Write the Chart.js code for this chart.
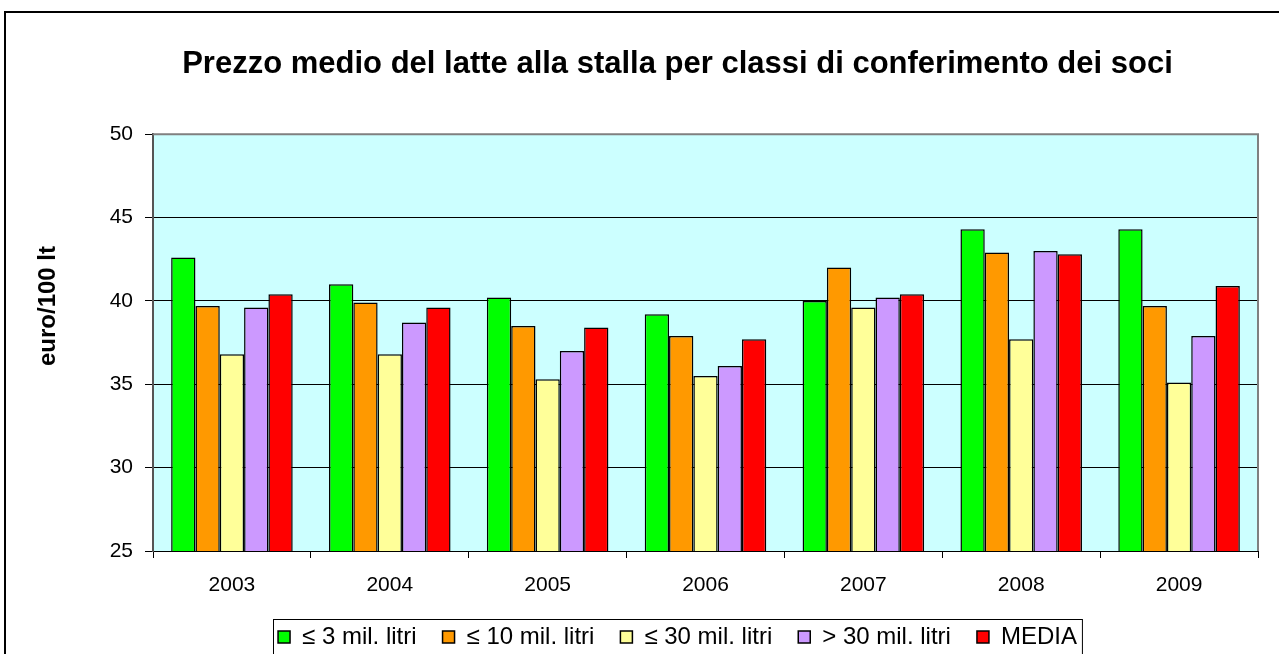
<!DOCTYPE html>
<html>
<head>
<meta charset="utf-8">
<script src="https://cdn.jsdelivr.net/npm/chart.js@4/dist/chart.umd.min.js"></script>
<style>
  body { margin: 0; overflow: hidden; background: #fff; }
  #frame { position: absolute; left: 4px; top: 11px; width: 1346px; height: 800px; border: 2px solid #000; }
  #c { position: absolute; left: 0; top: 0; }
</style>
</head>
<body>
<div id="frame"></div>
<canvas id="c" width="1355" height="680"></canvas>
<script>
// dati
const anni = ['2003', '2004', '2005', '2006', '2007', '2008', '2009'];
const classe3 = [42.6, 41.0, 40.2, 39.2, 40.0, 44.3, 44.3];
const classe10 = [39.7, 39.9, 38.5, 37.9, 42.0, 42.9, 39.7];
const classe30 = [36.8, 36.8, 35.3, 35.5, 39.6, 37.7, 35.1];
const oltre30 = [39.6, 38.7, 37.0, 36.1, 40.2, 43.0, 37.9];
const media = [40.4, 39.6, 38.4, 37.7, 40.4, 42.8, 40.9];
const yTicks = [25, 30, 35, 40, 45, 50];
const titoloY = 'euro/100 lt';

const font = 'Arial, "Liberation Sans", sans-serif';

function serie(label, data, color) {
  return { label: label, data: data, backgroundColor: color, borderColor: '#000', borderWidth: 1.5 };
}

// sfondo area grafico, titolo asse y, bordo legenda
const sfondo = {
  id: 'sfondo',
  beforeDraw(chart) {
    const { ctx, chartArea: a } = chart;
    ctx.save();
    ctx.fillStyle = '#CCFFFF';
    ctx.fillRect(a.left, a.top, a.right - a.left, a.bottom - a.top);
    ctx.restore();
  },
  afterDraw(chart) {
    const { ctx, chartArea: a } = chart;
    ctx.save();
    ctx.strokeStyle = '#808080';
    ctx.lineWidth = 2;
    ctx.beginPath();
    ctx.moveTo(a.left, a.top);
    ctx.lineTo(a.right, a.top);
    ctx.lineTo(a.right, a.bottom);
    ctx.stroke();

    ctx.translate(48, 306);
    ctx.rotate(-Math.PI / 2);
    ctx.fillStyle = '#000';
    ctx.font = 'bold 24px ' + font;
    ctx.textAlign = 'center';
    ctx.textBaseline = 'middle';
    ctx.fillText(titoloY, 0, 0);
    ctx.setTransform(1, 0, 0, 1, 0, 0);

    const hb = chart.legend.legendHitBoxes;
    if (hb && hb.length) {
      let l = Infinity, r = -Infinity, t = Infinity, b = -Infinity;
      hb.forEach(h => {
        l = Math.min(l, h.left); r = Math.max(r, h.left + h.width);
        t = Math.min(t, h.top); b = Math.max(b, h.top + h.height);
      });
      ctx.strokeStyle = '#000';
      ctx.lineWidth = 1;
      ctx.strokeRect(Math.round(l - 5) + 0.5, Math.round(t - 6) + 0.5, r - l + 10, b - t + 30);
    }
    ctx.restore();
  }
};

new Chart(document.getElementById('c'), {
  type: 'bar',
  data: {
    labels: anni,
    datasets: [
      serie('≤ 3 mil. litri', classe3, '#00FF00'),
      serie('≤ 10 mil. litri', classe10, '#FF9900'),
      serie('≤ 30 mil. litri', classe30, '#FFFF99'),
      serie('> 30 mil. litri', oltre30, '#CC99FF'),
      serie('MEDIA', media, '#FF0000')
    ]
  },
  options: {
    responsive: false,
    animation: false,
    layout: { padding: { left: 97, right: 97, top: 0, bottom: 21 } },
    datasets: { bar: { barPercentage: 1, categoryPercentage: 0.77 } },
    plugins: {
      title: {
        display: true,
        text: 'Prezzo medio del latte alla stalla per classi di conferimento dei soci',
        color: '#000',
        font: { family: font, size: 31, weight: 'bold' },
        padding: { top: 46, bottom: 51 }
      },
      legend: {
        position: 'bottom',
        labels: {
          color: '#000',
          font: { family: font, size: 24 },
          boxWidth: 12,
          boxHeight: 12,
          padding: 26
        }
      },
      tooltip: { enabled: false }
    },
    scales: {
      x: {
        afterFit: s => { s.height = 48; },
        grid: { display: true, offset: true, drawOnChartArea: false, color: '#000', tickLength: 7 },
        border: { display: true, color: '#000', width: 1 },
        ticks: { color: '#000', font: { family: font, size: 21 }, padding: 15 }
      },
      y: {
        min: 25,
        max: 50,
        afterFit: s => { s.width = 56; },
        afterBuildTicks: s => { s.ticks = yTicks.map(v => ({ value: v })); },
        grid: { color: '#000', tickLength: 8 },
        border: { display: true, color: '#555', width: 2 },
        ticks: { color: '#000', font: { family: font, size: 21 }, padding: 12 }
      }
    }
  },
  plugins: [sfondo]
});
</script>
</body>
</html>
